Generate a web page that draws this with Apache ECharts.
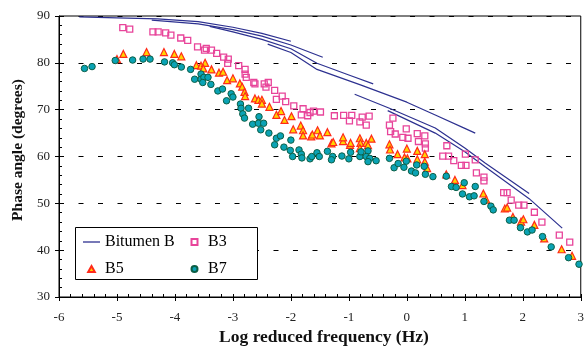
<!DOCTYPE html>
<html><head><meta charset="utf-8">
<script src="https://cdn.jsdelivr.net/npm/echarts@6/dist/echarts.min.js"></script>
<style>html,body{margin:0;padding:0;background:#fff}#c{width:587px;height:347px}</style>
</head><body><div id="c"></div>
<script>
// Bitumen B master-curve segments [logFreq, phase]
var bitA = [[-5.65,89.8],[-5.0,89.6],[-4.3,89.4],[-3.6,88.8],[-3.0,87.6],[-2.5,86.3],[-2.0,84.6]];
var bitB = [[-4.4,89.1],[-3.6,88.3],[-3.0,87.1],[-2.5,85.7],[-2.0,83.8],[-1.45,81.2]];
var bitC = [[-3.4,87.8],[-3.0,86.6],[-2.5,85.0],[-2.0,83.0],[-1.55,79.9],[-1.0,77.4],[-0.58,75.5]];
var bitD = [[-2.4,84.0],[-2.0,82.2],[-1.55,78.6],[-0.8,75.3],[0,71.6],[0.5,68.8],[1.0,66.0],[1.18,65.0]];
var bitE = [[-0.9,73.3],[-0.3,70.3],[0.49,66.1],[1.0,61.8],[1.35,58.6],[2.11,52.1]];
var bitF = [[-0.33,69.8],[0.49,65.0],[1.0,61.0],[1.35,57.8],[2.11,51.0],[2.68,44.7]];

var b3 = [[-4.90,87.5],[-4.78,87.2],[-4.38,86.6],[-4.29,86.6],[-4.16,86.4],[-4.07,85.9],[-3.90,85.3],[-3.78,84.8],[-3.61,83.4],[-3.49,82.7],[-3.46,83.1],[-3.37,82.7],[-3.28,82.0],[-3.16,81.2],[-3.08,80.8],[-3.09,79.9],[-2.90,79.4],[-2.79,78.6],[-2.79,77.6],[-2.77,76.9],[-2.64,75.8],[-2.62,75.5],[-2.46,75.5],[-2.39,75.8],[-2.43,74.8],[-2.28,74.1],[-2.25,72.2],[-2.15,72.9],[-2.09,71.7],[-1.95,70.8],[-1.79,70.2],[-1.82,68.9],[-1.71,68.7],[-1.67,69.4],[-1.61,69.7],[-1.49,69.5],[-1.25,68.7],[-1.09,68.8],[-0.99,67.6],[-0.95,68.8],[-0.81,67.4],[-0.77,68.4],[-0.70,66.7],[-0.65,68.6],[-0.24,68.2],[-0.30,66.7],[-0.28,65.3],[-0.20,64.8],[-0.07,64.1],[-0.01,65.9],[0.02,63.9],[0.18,64.9],[0.20,63.2],[0.31,64.4],[0.32,62.7],[0.32,61.8],[0.62,60.1],[0.69,62.3],[0.72,60.1],[0.81,59.1],[0.94,58.1],[1.01,60.5],[1.02,58.1],[1.18,59.3],[1.20,56.5],[1.33,55.6],[1.33,54.8],[1.67,52.3],[1.73,52.3],[1.80,50.7],[1.93,49.6],[2.02,49.6],[2.20,48.1],[2.33,46.0],[2.63,43.2],[2.81,41.7]];

var b5 = [[-5.00,80.8],[-4.89,81.9],[-4.49,82.3],[-4.19,82.3],[-4.01,81.9],[-3.89,81.4],[-3.63,79.5],[-3.55,79.4],[-3.48,80.0],[-3.51,78.8],[-3.37,78.6],[-3.24,77.9],[-3.17,78.1],[-3.10,76.3],[-3.00,76.7],[-2.88,75.6],[-2.84,74.9],[-2.80,73.8],[-2.79,72.9],[-2.62,72.4],[-2.56,72.1],[-2.50,72.1],[-2.50,71.3],[-2.37,70.6],[-2.25,68.9],[-2.17,69.7],[-2.11,67.8],[-1.99,68.6],[-1.96,65.8],[-1.83,66.6],[-1.79,65.6],[-1.79,64.5],[-1.65,64.3],[-1.63,64.7],[-1.54,65.6],[-1.50,64.5],[-1.37,65.2],[-1.30,62.8],[-1.27,63.1],[-1.10,63.3],[-1.10,64.1],[-0.98,62.5],[-0.97,62.9],[-0.81,63.9],[-0.80,62.9],[-0.81,61.8],[-0.70,62.9],[-0.67,62.4],[-0.61,63.8],[-0.30,62.6],[-0.29,61.5],[-0.16,60.5],[-0.04,59.8],[0.01,59.6],[0.00,61.7],[0.18,61.2],[0.18,59.4],[0.31,60.5],[0.31,58.9],[0.35,57.5],[0.68,56.2],[0.83,55.0],[0.96,53.9],[1.32,52.1],[1.37,50.8],[1.69,48.9],[1.73,49.1],[1.83,47.1],[1.97,46.1],[2.01,46.6],[2.20,45.4],[2.37,42.5],[2.67,40.2],[2.85,38.8]];

var b7 = [[-5.56,78.8],[-5.43,79.2],[-5.03,80.5],[-4.73,80.6],[-4.55,80.8],[-4.43,80.8],[-4.18,80.2],[-4.04,80.0],[-4.01,79.6],[-3.89,79.1],[-3.73,78.6],[-3.55,77.6],[-3.66,76.5],[-3.55,76.5],[-3.50,76.9],[-3.43,76.9],[-3.52,75.8],[-3.38,75.4],[-3.26,74.0],[-3.18,74.4],[-3.11,71.9],[-3.03,73.4],[-3.00,72.7],[-2.87,71.2],[-2.86,70.3],[-2.83,69.1],[-2.73,70.3],[-2.80,68.2],[-2.55,68.5],[-2.66,66.9],[-2.56,67.1],[-2.47,67.1],[-2.52,65.7],[-2.38,65.0],[-2.25,63.9],[-2.18,64.4],[-2.00,63.5],[-2.28,62.5],[-2.12,62.0],[-2.01,61.3],[-1.86,61.4],[-1.82,60.5],[-1.81,59.7],[-1.97,60.0],[-1.67,59.5],[-1.64,60.0],[-1.55,60.8],[-1.51,60.0],[-1.37,61.1],[-1.28,60.0],[-1.30,59.3],[-1.12,60.1],[-0.97,60.9],[-1.00,59.5],[-0.81,60.0],[-0.79,61.0],[-0.67,61.2],[-0.70,60.0],[-0.64,59.6],[-0.67,58.9],[-0.53,59.1],[-0.30,59.6],[-0.22,57.6],[-0.15,58.5],[-0.05,57.7],[-0.01,59.0],[0.08,56.9],[0.15,56.5],[0.17,58.2],[0.30,57.9],[0.32,56.2],[0.45,55.7],[0.68,55.8],[0.77,53.6],[0.85,53.4],[0.96,52.0],[0.99,54.4],[1.08,51.4],[1.16,51.6],[1.18,53.6],[1.33,50.4],[1.45,49.4],[1.49,48.6],[1.77,46.4],[1.85,46.4],[1.96,44.8],[2.08,43.9],[2.16,44.3],[2.34,42.9],[2.49,40.7],[2.79,38.4],[2.97,37.0]];

var xMin = -6, xMax = 3, xStep = 1;
var yMin = 30, yMax = 90, yStep = 10;
var xTitle = 'Log reduced frequency (Hz)';
var yTitle = 'Phase angle (degrees)';

var FONT = "'Liberation Serif','Times New Roman',serif";
var BLUE = '#2d3190';
var chart = echarts.init(document.getElementById('c'), null, {renderer:'canvas'});

function bitSeries(d){
  return {name:'Bitumen B', type:'line', data:d, symbol:'none', showSymbol:false,
    lineStyle:{color:BLUE, width:1.2}, itemStyle:{color:BLUE}, z:2, animation:false};
}

var legendText = {fontFamily:FONT, fontSize:16, color:'#000'};
chart.setOption({
  animation:false,
  grid:{left:59, right:1, top:16, bottom:50, show:true, borderColor:'#000', borderWidth:1, backgroundColor:'transparent'},
  xAxis:[
    {type:'value', min:xMin, max:xMax, interval:xStep, position:'bottom',
     axisLine:{show:true, onZero:false, lineStyle:{color:'#000', width:1}},
     axisTick:{show:true, inside:false, length:4, lineStyle:{color:'#000'}},
     axisLabel:{show:true, margin:14, fontFamily:FONT, fontSize:13, color:'#222'},
     splitLine:{show:false}},
    {type:'value', min:xMin, max:xMax, interval:xStep, position:'bottom', gridIndex:0,
     axisLine:{show:false, onZero:false},
     axisTick:{show:true, inside:true, length:3, lineStyle:{color:'#000'}},
     minorTick:{show:true, splitNumber:5, length:3, lineStyle:{color:'#000'}},
     axisLabel:{show:false}, splitLine:{show:false}}
  ],
  yAxis:[
    {type:'value', min:yMin, max:yMax, interval:yStep, position:'left',
     axisLine:{show:true, onZero:false, lineStyle:{color:'#000', width:1}},
     axisTick:{show:true, inside:false, length:4, lineStyle:{color:'#000'}},
     axisLabel:{show:true, margin:9, fontFamily:FONT, fontSize:13, color:'#222'},
     splitLine:{show:true, lineStyle:{color:'#000', width:1, type:[5,14.5]}}},
    {type:'value', min:yMin, max:yMax, interval:yStep, position:'left', gridIndex:0,
     axisLine:{show:false, onZero:false},
     axisTick:{show:true, inside:true, length:3, lineStyle:{color:'#000'}},
     minorTick:{show:true, splitNumber:5, length:3, lineStyle:{color:'#000'}},
     axisLabel:{show:false}, splitLine:{show:false}}
  ],
  legend:[
    {data:[{name:'Bitumen B', icon:'path://M0,0H17V1.3H0Z', itemStyle:{color:BLUE}}, {name:'B5', icon:'path://M5,0L10,9L0,9Z'}], orient:'vertical', left:83, top:234,
     itemWidth:17, itemHeight:6, itemGap:11, padding:0, selectedMode:false, textStyle:legendText, z:6},
    {data:[{name:'B3', icon:'path://M0,0H10V10H0Z'}, {name:'B7', icon:'circle'}], orient:'vertical', left:190.5, top:234,
     itemWidth:17, itemHeight:6, itemGap:11, padding:0, selectedMode:false, textStyle:legendText, z:6}
  ],
  graphic:[
    {type:'rect', z:5, shape:{x:75.5, y:227.5, width:182, height:52}, style:{fill:'#fff', stroke:'#000', lineWidth:1}},
    {type:'text', z:5, x:324, y:337, style:{text:xTitle, font:"bold 17.5px "+FONT, fill:'#111', align:'center', verticalAlign:'middle'}},
    {type:'text', z:5, x:18, y:150, rotation:Math.PI/2, style:{text:yTitle, font:"bold 15.5px "+FONT, fill:'#111', align:'center', verticalAlign:'middle'}}
  ],
  series:[
    bitSeries(bitA), bitSeries(bitB), bitSeries(bitC), bitSeries(bitD), bitSeries(bitE), bitSeries(bitF),
    {name:'B3', type:'scatter', data:b3, symbol:'rect', symbolSize:6,
     itemStyle:{color:'rgba(255,255,255,0)', borderColor:'#e8449a', borderWidth:1.3, opacity:1}, z:3},
    {name:'B5', type:'scatter', data:b5, symbol:'triangle', symbolSize:7,
     itemStyle:{color:'#ffd400', borderColor:'#ff2a1a', borderWidth:1.2, opacity:1}, z:3},
    {name:'B7', type:'scatter', data:b7, symbol:'circle', symbolSize:6.5,
     itemStyle:{color:'#0aa3b5', borderColor:'#0c5e45', borderWidth:1, opacity:1}, z:3}
  ]
});
</script></body></html>
